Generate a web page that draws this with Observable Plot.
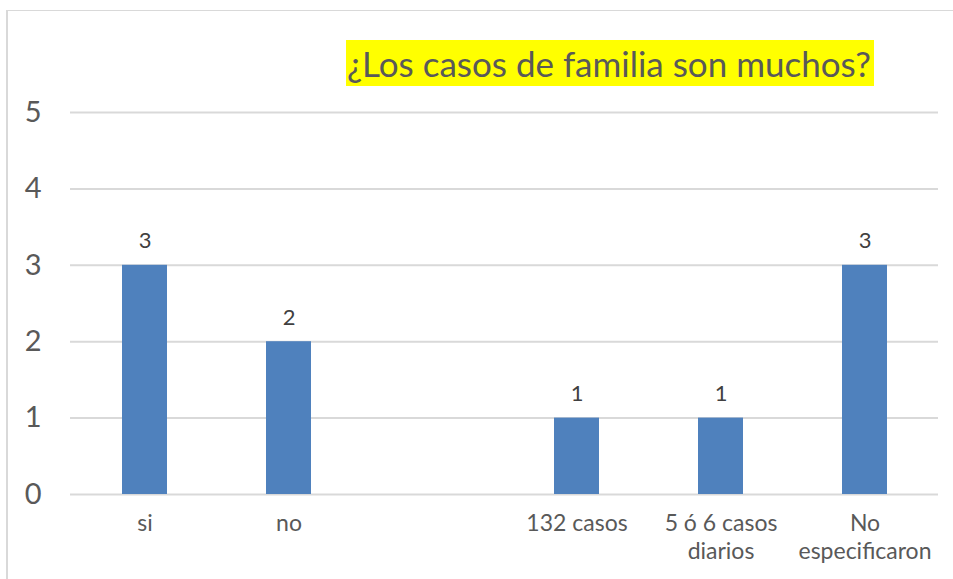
<!DOCTYPE html>
<html>
<head>
<meta charset="utf-8">
<script src="https://cdn.jsdelivr.net/npm/d3@7"></script>
<script src="https://cdn.jsdelivr.net/npm/@observablehq/plot@0.6"></script>
<style>
  html, body { margin: 0; padding: 0; background: #fff; }
  body { width: 953px; height: 579px; overflow: hidden; position: relative; font-family: Lato, "Open Sans", sans-serif; }
  #frame { position: absolute; left: 6px; top: 10px; width: 1000px; height: 600px;
           border-left: 2px solid #d9d9d9; border-top: 1.5px solid #d9d9d9; pointer-events: none; }
  #titlebox { height: 92px; position: relative; }
  #title { position: absolute; left: 346px; top: 40px; height: 46px; line-height: 46px;
           background: #ffff00; color: #595959; font-size: 35px; white-space: nowrap; padding: 0 3px 0 1px; }
  #chart svg { display: block; }
</style>
</head>
<body>
<div id="frame"></div>
<div id="titlebox"><span id="title">¿Los casos de familia son muchos?</span></div>
<div id="chart"></div>
<script>
const categories = ["si", "no", " ", "132 casos", "5 ó 6 casos diarios", "No especificaron"];
const tickLabels = ["si", "no", "", "132 casos", "5 ó 6 casos\ndiarios", "No\nespecificaron"];
const values = [3, 2, null, 1, 1, 3];
const yTicks = [0, 1, 2, 3, 4, 5];

const data = categories.map((c, i) => ({category: c, value: values[i]})).filter(d => d.value != null);
const labelOf = new Map(categories.map((c, i) => [c, tickLabels[i]]));

const chart = Plot.plot({
  width: 953,
  height: 487,
  marginTop: 20,
  marginBottom: 85,
  marginLeft: 70,
  marginRight: 15,
  style: {fontFamily: "Lato, 'Open Sans', sans-serif", background: "transparent"},
  x: {domain: categories, paddingInner: 0.69, paddingOuter: 0.345, align: 0.5},
  y: {domain: [0, 5], ticks: yTicks},
  marks: [
    Plot.gridY(yTicks, {stroke: "#d9d9d9", strokeOpacity: 1, strokeWidth: 2}),
    Plot.barY(data, {x: "category", y: "value", fill: "#4f81bd"}),
    Plot.text(data, {x: "category", y: "value", text: d => String(d.value), dy: -24,
      fontSize: 22, fill: "#404040"}),
    Plot.axisY(yTicks, {tickSize: 0, tickPadding: 29, fontSize: 29, color: "#595959", label: null,
      tickFormat: d => String(d)}),
    Plot.axisX({tickSize: 0, tickPadding: 17, fontSize: 23, color: "#595959", lineHeight: 1.2,
      tickFormat: d => labelOf.get(d), label: null})
  ]
});
document.getElementById("chart").appendChild(chart);
</script>
</body>
</html>
